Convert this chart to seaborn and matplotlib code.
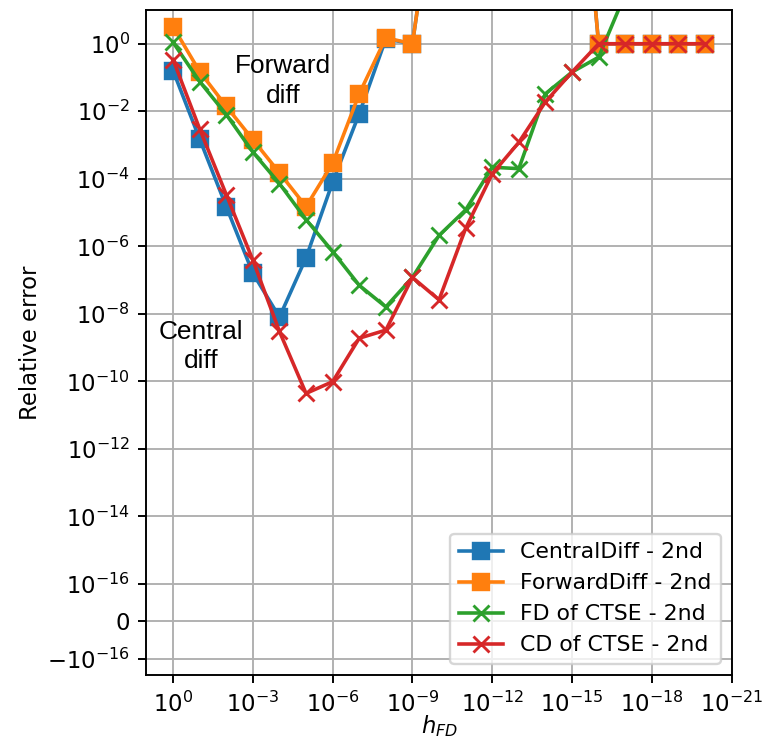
import numpy as np
import pandas as pd
import matplotlib
matplotlib.use("Agg")
import matplotlib.pyplot as plt
import seaborn as sns
from matplotlib.ticker import FixedLocator, NullLocator

# step sizes h_FD (one per decade)
h_fd = [1e0, 1e-1, 1e-2, 1e-3, 1e-4, 1e-5, 1e-6, 1e-7, 1e-8, 1e-9, 1e-10,
        1e-11, 1e-12, 1e-13, 1e-14, 1e-15, 1e-16, 1e-17, 1e-18, 1e-19, 1e-20]

central_diff = [0.16, 1.5e-3, 1.5e-5, 1.6e-7, 8e-9, 4.6e-7, 8e-5, 8.5e-3, 1.4, 1.0,
                3e5, 4e6, 3e7, 2e8, 4e8, 5e8, 1.0, 1.0, 1.0, 1.0, 1.0]
forward_diff = [3.2, 0.15, 1.4e-2, 1.45e-3, 1.5e-4, 1.5e-5, 2.9e-4, 3.3e-2, 1.5, 1.0,
                3e5, 4e6, 3e7, 2e8, 4e8, 5e8, 1.0, 1.0, 1.0, 1.0, 1.0]
fd_ctse = [1.1, 7.6e-2, 8e-3, 6.2e-4, 7.2e-5, 6.2e-6, 7e-7, 7e-8, 1.6e-8, 1.2e-7,
           2.1e-6, 1.2e-5, 2.2e-4, 2.0e-4, 3.3e-2, 0.145, 0.4, 30.0, 600.0, 3e3, 1e4]
cd_ctse = [0.34, 3e-3, 3.4e-5, 3.9e-7, 3e-9, 4.4e-11, 9.8e-11, 1.9e-9, 3.3e-9, 1.2e-7,
           2.6e-8, 3.4e-6, 1.4e-4, 1.2e-3, 1.9e-2, 0.145, 1.0, 1.0, 1.0, 1.0, 1.0]

series_names = ["CentralDiff - 2nd", "ForwardDiff - 2nd", "FD of CTSE - 2nd", "CD of CTSE - 2nd"]
series_values = [central_diff, forward_diff, fd_ctse, cd_ctse]
series_colors = ["#1f77b4", "#ff7f0e", "#2ca02c", "#d62728"]
series_markers = ["s", "s", "x", "x"]

x_ticks = [1e0, 1e-3, 1e-6, 1e-9, 1e-12, 1e-15, 1e-18, 1e-21]
y_ticks = [-1e-16, 0, 1e-16, 1e-14, 1e-12, 1e-10, 1e-8, 1e-6, 1e-4, 1e-2, 1e0]

fig = plt.figure(figsize=(775 / 172, 741 / 172), dpi=172)
ax = fig.add_axes([0.189, 0.089, 0.755, 0.8975])

for name, vals, col, mk in zip(series_names, series_values, series_colors, series_markers):
    df = pd.DataFrame({"h": h_fd, "err": vals})
    sns.lineplot(data=df, x="h", y="err", ax=ax, color=col, marker=mk,
                 markersize=6.5, markeredgecolor=col,
                 markeredgewidth=1.2 if mk == "x" else 1.0,
                 linewidth=1.5, label=name, sort=False)

ax.set_xscale("log")
ax.set_yscale("symlog", linthresh=1e-16, linscale=1)
ax.set_xlim(10, 1e-21)
ax.set_ylim(-3e-16, 10)
ax.xaxis.set_major_locator(FixedLocator(x_ticks))
ax.xaxis.set_minor_locator(NullLocator())
ax.yaxis.set_major_locator(FixedLocator(y_ticks))
ax.yaxis.set_minor_locator(NullLocator())
ax.tick_params(labelsize=9.5)
ax.grid(True, which="major", color="#b0b0b0", linewidth=0.8)
ax.set_axisbelow(True)

ax.set_xlabel("$h_{FD}$", fontsize=9.5, labelpad=-1.5)
ax.set_ylabel("Relative error", fontsize=9.5, labelpad=2)

ax.text(0.233, 0.893, "Forward\ndiff", transform=ax.transAxes, ha="center", va="center",
        fontsize=11, family=["Liberation Sans", "DejaVu Sans"], linespacing=1.3)
ax.text(0.093, 0.494, "Central\ndiff", transform=ax.transAxes, ha="center", va="center",
        fontsize=11, family=["Liberation Sans", "DejaVu Sans"], linespacing=1.3)

ax.legend(loc="lower right", fontsize=9.2)

fig.savefig("out.png", dpi=172)
